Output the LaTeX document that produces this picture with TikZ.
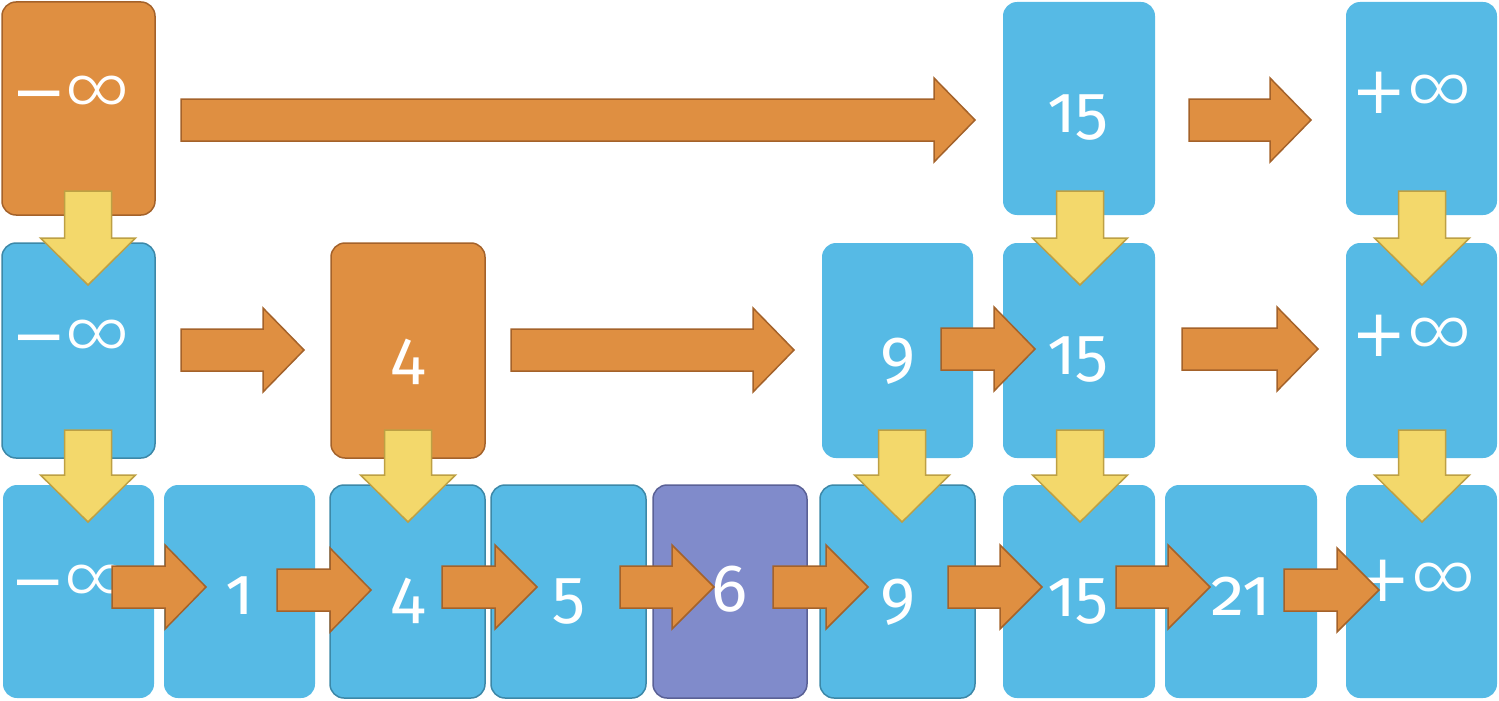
\documentclass[tikz,border=0pt]{standalone}
\usepackage{fontspec}
\newfontfamily\lblfont[Numbers=OldStyle]{Fira Sans}
\IfFontExistsTF{Fira Sans Light}{\newfontfamily\inffont{Fira Sans Light}}{\newfontfamily\inffont{Fira Sans}}
\newfontfamily\signfont{DejaVu Sans}
\definecolor{bfill}{HTML}{56BAE5}
\definecolor{bline}{HTML}{3C88A8}
\definecolor{ofill}{HTML}{DF8F41}
\definecolor{oline}{HTML}{A4622A}
\definecolor{yfill}{HTML}{F3D86B}
\definecolor{yline}{HTML}{BDA044}
\definecolor{pfill}{HTML}{808BCB}
\definecolor{pline}{HTML}{5A6196}
\newcommand\sgn[1]{{\signfont\fontsize{66}{66}\selectfont #1}}
\newcommand\infy{{\inffont\fontsize{75}{75}\selectfont ∞}}
\tikzset{
  cell/.style={rectangle, rounded corners=14pt, inner sep=0pt, outer sep=0pt},
  bluecell/.style={cell, fill=bfill},
  bluecellb/.style={cell, fill=bfill, draw=bline, line width=1.5pt},
  orangecell/.style={cell, fill=ofill, draw=oline, line width=1.5pt},
  purplecell/.style={cell, fill=pfill, draw=pline, line width=1.5pt},
  lbl/.style={text=white, inner sep=0pt, font=\lblfont\fontsize{67}{67}\selectfont},
  oarrow/.style={fill=ofill, draw=oline, line width=1.5pt, line join=miter},
  yarrow/.style={fill=yfill, draw=yline, line width=1.5pt, line join=miter},
}
\newcommand\rarr[4]{\draw[oarrow] (#1,#4-21) -- (#3,#4-21) -- (#3,#4-42) -- (#2,#4) -- (#3,#4+42) -- (#3,#4+21) -- (#1,#4+21) -- cycle;}
\newcommand\darr[3]{\draw[yarrow] (#1-23.5,#2) -- (#1+23.5,#2) -- (#1+23.5,#3-47) -- (#1+47.5,#3-47) -- (#1,#3) -- (#1-47.5,#3-47) -- (#1-23.5,#3-47) -- cycle;}
\newcommand\cellnode[6]{\node[#2, minimum width=#5pt, minimum height=#6pt] (#1) at (#3,#4) {};}
\newcommand\minf{\sgn{−}\kern-2pt\infy}
\newcommand\pinf{\sgn{+}\kern0pt\infy}
\begin{document}
\begin{tikzpicture}[x=1pt,y=-1pt]
\useasboundingbox (0,0) rectangle (1499,701);
% row 1
\cellnode{a1}{orangecell}{78.5}{108.5}{153}{213}
\cellnode{b1}{bluecell}{1079}{108.5}{152}{213}
\cellnode{c1}{bluecell}{1421.5}{108.5}{151}{213}
% row 2
\cellnode{a2}{bluecellb}{78.5}{350.5}{153}{215}
\cellnode{d2}{orangecell}{408}{350.5}{154}{215}
\cellnode{e2}{bluecell}{897.5}{350.5}{151}{215}
\cellnode{b2}{bluecell}{1079}{350.5}{152}{215}
\cellnode{c2}{bluecell}{1421.5}{350.5}{151}{215}
% row 3
\cellnode{a3}{bluecell}{78.5}{591.5}{151}{213}
\cellnode{f3}{bluecell}{239.5}{591.5}{151}{213}
\cellnode{d3}{bluecellb}{407.5}{591.5}{155}{213}
\cellnode{g3}{bluecellb}{568.5}{591.5}{155}{213}
\cellnode{h3}{purplecell}{730}{591.5}{154}{213}
\cellnode{e3}{bluecellb}{897.5}{591.5}{155}{213}
\cellnode{b3}{bluecell}{1079}{591.5}{152}{213}
\cellnode{i3}{bluecell}{1241}{591.5}{152}{213}
\cellnode{c3}{bluecell}{1421.5}{591.5}{151}{213}
% labels
\node[lbl] (la1) at (71,95) {\minf};
\node[lbl] (lb1) at (1078,118) {15};
\node[lbl] (lc1) at (1412,93) {\pinf};
\node[lbl] (la2) at (71,339) {\minf};
\node[lbl] (ld2) at (408,362) {4};
\node[lbl] (le2) at (898,361) {9};
\node[lbl] (lb2) at (1078,360) {15};
\node[lbl] (lc2) at (1412,336) {\pinf};
\node[lbl] (la3) at (70,584) {\minf};
\node[lbl] (lf3) at (240,596) {1};
\node[lbl] (ld3) at (408,601) {4};
\node[lbl] (lg3) at (569,602) {5};
\node[lbl] (lh3) at (730,589) {6};
\node[lbl] (le3) at (898,602) {9};
\node[lbl] (lb3) at (1078,602) {15};
\node[lbl] (li3) at (1241,596) {21};
\node[lbl] (lc3) at (1416,581) {\pinf};
% orange arrows
\rarr{181}{975}{934}{120}
\rarr{1189}{1311}{1270}{120}
\rarr{181}{304}{263}{350}
\rarr{511}{794}{753}{350}
\rarr{941}{1035}{994}{349}
\rarr{1182}{1318}{1277}{349}
\rarr{112}{206}{165}{587}
\rarr{277}{371}{330}{590}
\rarr{442}{537}{495}{587}
\rarr{620}{714}{672}{587}
\rarr{773}{868}{826}{587}
\rarr{948}{1042}{1000}{587}
\rarr{1116}{1210}{1168}{587}
\rarr{1284}{1379}{1337}{590}
% yellow arrows
\darr{88}{191}{285}
\darr{88}{430}{522}
\darr{408}{430}{522}
\darr{902}{430}{522}
\darr{1080}{191}{285}
\darr{1080}{430}{522}
\darr{1422}{191}{285}
\darr{1422}{430}{522}
\end{tikzpicture}
\end{document}
